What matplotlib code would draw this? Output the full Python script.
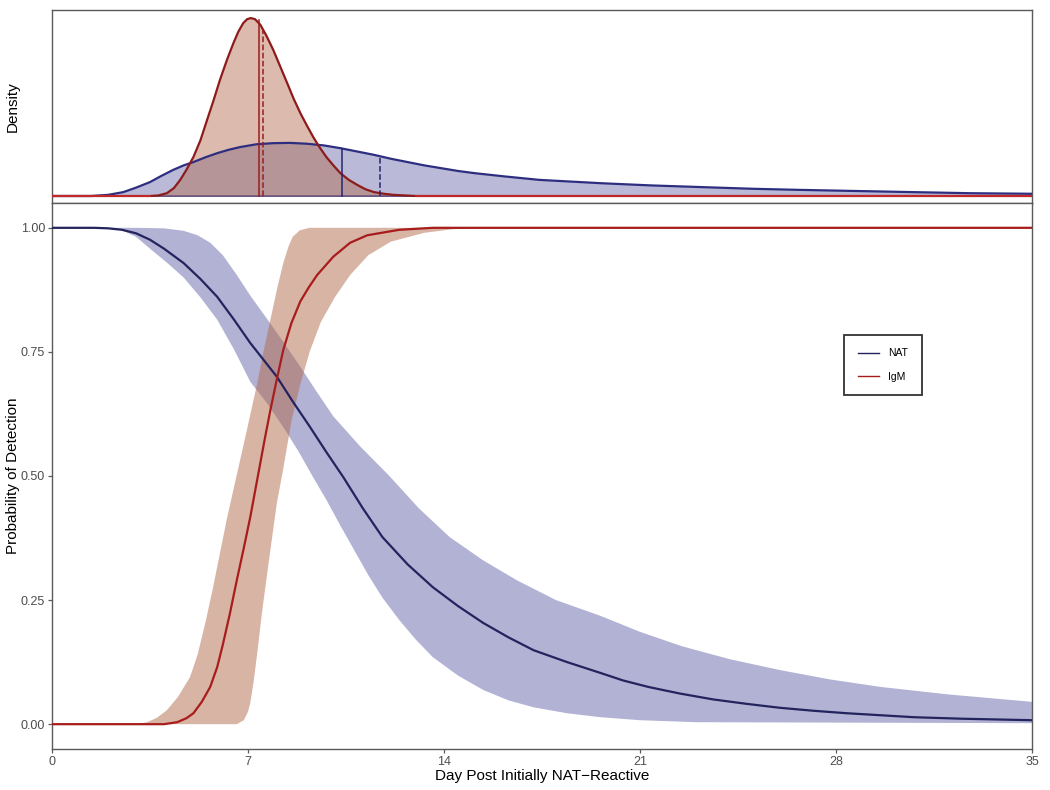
import numpy as np
import matplotlib
matplotlib.use("Agg")
import matplotlib.pyplot as plt

plt.rcParams['font.family'] = ['Liberation Sans', 'DejaVu Sans']

# ---- probability of detection ----
nat_days = [0, 1.5, 2.0, 2.5, 3.0, 3.5, 4.0, 4.7, 5.3, 5.9, 6.5, 7.08, 7.5, 8.03, 8.6, 9.2,
            9.8, 10.4, 11.1, 11.8, 12.7, 13.6, 14.5, 15.4, 16.3, 17.2, 18.4, 19.6, 20.4,
            21.3, 22.4, 23.6, 24.8, 26.0, 27.2, 28.4, 29.6, 30.8, 32.5, 35]
nat_p = [1.0, 1.0, 0.999, 0.996, 0.989, 0.976, 0.958, 0.929, 0.897, 0.861, 0.815, 0.768,
         0.738, 0.70, 0.65, 0.60, 0.548, 0.498, 0.435, 0.377, 0.322, 0.276, 0.238, 0.204,
         0.175, 0.149, 0.125, 0.103, 0.088, 0.075, 0.062, 0.05, 0.041, 0.033, 0.027, 0.022,
         0.018, 0.014, 0.011, 0.008]

nat_hi_days = [0, 3.0, 4.0, 4.7, 5.2, 5.65, 6.1, 6.6, 7.1, 7.7, 8.3, 8.87, 9.45, 10.05,
               11.0, 12.05, 13.1, 14.2, 15.4, 16.6, 18.0, 19.6, 21.0, 22.5, 24.2, 26.0,
               27.8, 29.6, 32.0, 35]
nat_hi = [1.0, 1.0, 0.999, 0.994, 0.985, 0.97, 0.945, 0.905, 0.862, 0.815, 0.767, 0.72,
          0.67, 0.62, 0.56, 0.50, 0.435, 0.377, 0.33, 0.29, 0.25, 0.218, 0.186, 0.157,
          0.131, 0.109, 0.09, 0.075, 0.06, 0.045]

nat_lo_days = [0, 2.0, 2.5, 3.0, 3.5, 4.1, 4.7, 5.3, 5.9, 6.5, 7.08, 7.7, 8.3, 8.8, 9.3,
               9.8, 10.3, 10.8, 11.3, 11.8, 12.4, 13.0, 13.6, 14.5, 15.4, 16.3, 17.2, 18.4,
               19.6, 21.0, 23.0, 35]
nat_lo = [1.0, 1.0, 0.995, 0.982, 0.958, 0.93, 0.90, 0.86, 0.815, 0.755, 0.69, 0.645,
          0.595, 0.55, 0.50, 0.452, 0.40, 0.35, 0.30, 0.255, 0.21, 0.17, 0.135, 0.098,
          0.069, 0.048, 0.034, 0.022, 0.014, 0.008, 0.004, 0.002]

igm_days = [0, 4.0, 4.47, 4.8, 5.05, 5.35, 5.65, 5.9, 6.1, 6.35, 6.6, 6.85, 7.08, 7.37,
            7.6, 7.8, 8.03, 8.26, 8.55, 8.87, 9.17, 9.47, 10.05, 10.65, 11.26, 12.4, 13.6, 35]
igm_p = [0, 0, 0.004, 0.012, 0.022, 0.045, 0.075, 0.115, 0.16, 0.222, 0.29, 0.355, 0.417,
         0.505, 0.575, 0.633, 0.695, 0.754, 0.808, 0.852, 0.88, 0.905, 0.942, 0.97, 0.985,
         0.996, 1.0, 1.0]

igm_hi_days = [0, 3.0, 3.4, 3.75, 4.1, 4.5, 4.93, 5.2, 5.5, 5.75, 6.0, 6.25, 6.55, 6.95,
               7.33, 7.55, 7.8, 8.05, 8.26, 8.45, 8.6, 8.85, 9.2, 35]
igm_hi = [0, 0, 0.004, 0.013, 0.028, 0.055, 0.095, 0.14, 0.21, 0.275, 0.345, 0.415, 0.49,
          0.59, 0.687, 0.75, 0.815, 0.88, 0.929, 0.963, 0.982, 0.995, 1.0, 1.0]

igm_lo_days = [0, 6.6, 6.85, 7.0, 7.08, 7.2, 7.33, 7.5, 7.7, 7.87, 8.03, 8.26, 8.55, 8.87,
               9.2, 9.6, 10.1, 10.65, 11.3, 12.1, 13.3, 14.3, 15.4, 35]
igm_lo = [0, 0, 0.008, 0.025, 0.042, 0.085, 0.143, 0.225, 0.31, 0.38, 0.445, 0.515, 0.61,
          0.685, 0.75, 0.81, 0.86, 0.905, 0.945, 0.972, 0.99, 0.997, 1.0, 1.0]

# ---- densities ----
igm_dens_days = [0, 3.5, 3.8, 4.1, 4.35, 4.58, 4.8, 5.05, 5.3, 5.54, 5.77, 6.0, 6.25, 6.48,
                 6.65, 6.83, 6.97, 7.1, 7.25, 7.44, 7.65, 7.9, 8.15, 8.4, 8.63, 8.87, 9.1,
                 9.33, 9.55, 9.8, 10.05, 10.3, 10.6, 10.9, 11.2, 11.5, 11.85, 12.2, 12.6,
                 13.0, 35]
igm_dens = [0, 0, 0.001, 0.005, 0.014, 0.029, 0.047, 0.070, 0.10, 0.137, 0.172, 0.209,
            0.245, 0.275, 0.295, 0.311, 0.318, 0.320, 0.318, 0.308, 0.289, 0.263, 0.233,
            0.203, 0.175, 0.149, 0.127, 0.106, 0.088, 0.070, 0.055, 0.041, 0.029, 0.020,
            0.012, 0.007, 0.004, 0.002, 0.001, 0, 0]

nat_dens_days = [0, 1.4, 2.0, 2.55, 3.0, 3.5, 3.9, 4.33, 4.7, 5.05, 5.5, 5.9, 6.3, 6.72,
                 7.3, 7.9, 8.5, 9.1, 9.7, 10.3, 10.9, 11.5, 12.1, 12.7, 13.3, 13.9, 14.5,
                 15.1, 16.2, 17.4, 18.5, 19.6, 21.4, 23.2, 25.0, 26.7, 28.7, 30.7, 32.8, 35]
nat_dens = [0, 0, 0.002, 0.007, 0.015, 0.025, 0.036, 0.047, 0.055, 0.061, 0.070, 0.077,
            0.083, 0.088, 0.093, 0.095, 0.0955, 0.094, 0.091, 0.086, 0.080, 0.074, 0.067,
            0.061, 0.055, 0.050, 0.045, 0.041, 0.035, 0.029, 0.026, 0.023, 0.019, 0.016,
            0.013, 0.011, 0.009, 0.007, 0.005, 0.004]

# median (solid) and mean (dashed) markers: day, height of curve there
igm_marks = [7.38, 7.52]
igm_mark_h = [0.317, 0.300]
nat_marks = [10.36, 11.73]
nat_mark_h = [0.085, 0.072]

x_ticks = [0, 7, 14, 21, 28, 35]
y_ticks = [0.0, 0.25, 0.5, 0.75, 1.0]

blue_fill = '#6666AA'
red_fill = '#B36A4D'
blue_line = '#23235E'
red_line = '#A81C1C'
spine_col = '#5A5A5A'

fig = plt.figure(figsize=(10.5, 7.9), dpi=100)
ax_top = fig.add_axes([52 / 1050, 1 - 203 / 790, 980 / 1050, 193 / 790])
ax = fig.add_axes([52 / 1050, 1 - 749 / 790, 980 / 1050, 546 / 790])

# top: densities
ax_top.plot([0, 35], [0, 0], color='#2B2B80', lw=1.2, zorder=1)
ax_top.fill_between(nat_dens_days, nat_dens, color=blue_fill, alpha=0.45, lw=0, zorder=2)
ax_top.plot(nat_dens_days, nat_dens, color='#2E2E80', lw=1.6, zorder=4)
ax_top.fill_between(igm_dens_days, igm_dens, color=red_fill, alpha=0.45, lw=0, zorder=3)
ax_top.plot(igm_dens_days, igm_dens, color='#8E1B1B', lw=1.6, zorder=5)
for d, h, ls in zip(nat_marks, nat_mark_h, ['-', '--']):
    ax_top.plot([d, d], [0, h], color='#26266E', lw=1.1, ls=ls, zorder=6)
for d, h, ls in zip(igm_marks, igm_mark_h, ['-', '--']):
    ax_top.plot([d, d], [0, h], color='#9A1E1E', lw=1.1, ls=ls, zorder=6)
ax_top.plot([0, 3.5], [0, 0], color='#C62828', lw=1.4, zorder=5)
ax_top.plot([13.0, 35], [0, 0], color='#C62828', lw=1.4, zorder=5)
ax_top.set_xlim(0, 35)
ax_top.set_ylim(-0.0126, 0.3345)
ax_top.set_xticks([])
ax_top.set_yticks([])
ax_top.set_ylabel('Density', fontsize=11)
ax_top.yaxis.set_label_coords(-0.033, 0.5)

# bottom: probability of detection
ax.fill(nat_hi_days + nat_lo_days[::-1], nat_hi + nat_lo[::-1],
        color=blue_fill, alpha=0.5, lw=0, zorder=1)
ax.fill(igm_hi_days + igm_lo_days[::-1], igm_hi + igm_lo[::-1],
        color=red_fill, alpha=0.5, lw=0, zorder=2)
ax.plot(nat_days, nat_p, color=blue_line, lw=1.6, label='NAT', zorder=3)
ax.plot(igm_days, igm_p, color=red_line, lw=1.6, label='IgM', zorder=4)
ax.set_xlim(0, 35)
ax.set_ylim(-0.05, 1.05)
ax.set_xticks(x_ticks)
ax.set_xticklabels([str(t) for t in x_ticks])
ax.set_yticks(y_ticks)
ax.set_yticklabels(['%.2f' % t for t in y_ticks])
ax.set_xlabel('Day Post Initially NAT\u2212Reactive', fontsize=11, labelpad=1)
ax.set_ylabel('Probability of Detection', fontsize=11)
ax.yaxis.set_label_coords(-0.033, 0.5)

for a in (ax_top, ax):
    for s in a.spines.values():
        s.set_color(spine_col)
        s.set_linewidth(1.0)
    a.tick_params(length=3, width=0.9, color=spine_col, labelsize=9,
                  labelcolor='#4D4D4D', pad=2)

leg = ax.legend(loc='center', bbox_to_anchor=(0.848, 0.703), fontsize=7.5,
                frameon=True, fancybox=False, handlelength=2.0, borderpad=1.3,
                labelspacing=1.3, handletextpad=0.9, borderaxespad=0)
leg.get_frame().set_edgecolor('black')
leg.get_frame().set_linewidth(1.3)
for ln in leg.get_lines():
    ln.set_linewidth(1.0)

fig.savefig('out.png', dpi=100)
